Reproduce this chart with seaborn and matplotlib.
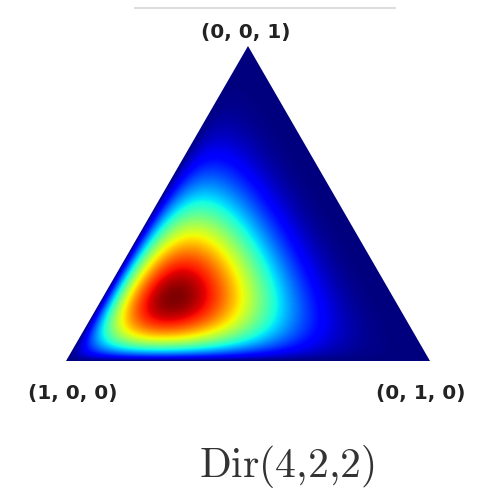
import numpy as np
import matplotlib
matplotlib.use("Agg")
import matplotlib.pyplot as plt
from matplotlib.patches import Polygon
from matplotlib.lines import Line2D
import seaborn as sns

# Dirichlet concentration parameters
alpha = [4, 2, 2]
# Corner labels: (1,0,0) bottom-left, (0,1,0) bottom-right, (0,0,1) top
corner_labels = ["(1, 0, 0)", "(0, 1, 0)", "(0, 0, 1)"]
title_text = r"$\mathrm{Dir}(4{,}2{,}2)$"

sns.set_theme(style="white")
plt.rcParams["font.family"] = ["DejaVu Sans"]

W, H = 481, 495
fig = plt.figure(figsize=(W / 100, H / 100), dpi=100)
h = np.sqrt(3) / 2
ax = fig.add_axes([66 / W, 134 / H, 364 / W, 315 / H])
ax.set_xlim(0, 1)
ax.set_ylim(0, h)
ax.axis("off")

# Density on a cartesian grid mapped into barycentric coordinates
n = 600
xs = np.linspace(0, 1, n)
ys = np.linspace(0, h, int(n * h))
X, Y = np.meshgrid(xs, ys)
c = Y / h
b = X - 0.5 * c
a = 1 - b - c
inside = (a >= 0) & (b >= 0) & (c >= 0)
pdf = (np.clip(a, 0, None) ** (alpha[0] - 1)
       * np.clip(b, 0, None) ** (alpha[1] - 1)
       * np.clip(c, 0, None) ** (alpha[2] - 1))
pdf = np.where(inside, pdf, 0.0)
pdf = pdf / pdf.max()

tri = Polygon([[0, 0], [1, 0], [0.5, h]], closed=True, transform=ax.transData,
              facecolor="none", edgecolor="none")
ax.add_patch(tri)
im = ax.imshow(pdf, cmap="jet", origin="lower", extent=[0, 1, 0, h],
               vmin=0, vmax=1, interpolation="bilinear", aspect="auto")
im.set_clip_path(tri)

label_kw = dict(ha="center", va="center", fontsize=14.5, fontweight="bold",
                color="#222222")
fig.text(72.5 / W, 1 - 394 / H, corner_labels[0], **label_kw)
fig.text(420.5 / W, 1 - 394 / H, corner_labels[1], **label_kw)
fig.text(246 / W, 1 - 32.5 / H, corner_labels[2], **label_kw)

fig.text(287 / W, 1 - 467 / H, title_text, ha="center", va="center",
         fontsize=30, color="#333333", math_fontfamily="cm")

fig.add_artist(Line2D([135 / W, 395 / W], [1 - 8 / H, 1 - 8 / H],
                      color="#dddddd", linewidth=1.5, transform=fig.transFigure))

fig.savefig("out.png", dpi=100)
